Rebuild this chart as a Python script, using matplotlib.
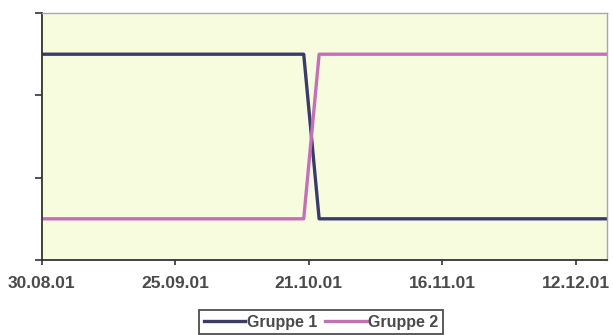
import matplotlib
matplotlib.use("Agg")
import matplotlib.pyplot as plt
import matplotlib.dates as mdates
import pandas as pd

# Werte
dates = ["30.08.2001", "20.10.2001", "23.10.2001", "18.12.2001"]
gruppe1 = [2.5, 2.5, 0.5, 0.5]
gruppe2 = [0.5, 0.5, 2.5, 2.5]
tick_dates = ["30.08.2001", "25.09.2001", "21.10.2001", "16.11.2001", "12.12.2001"]

x = pd.to_datetime(dates, format="%d.%m.%Y")
ticks = pd.to_datetime(tick_dates, format="%d.%m.%Y")

plt.rcParams['font.family'] = ['Liberation Sans', 'DejaVu Sans']

fig = plt.figure(figsize=(6.13, 3.35), dpi=100)
ax = fig.add_axes([0.068, 0.224, 0.922, 0.737])
ax.set_facecolor('#f8fcdf')

ax.plot(x, gruppe1, color='#3b3b68', lw=2.4, label='Gruppe 1')
ax.plot(x, gruppe2, color='#c272b4', lw=2.4, label='Gruppe 2')

ax.set_xlim(x[0], x[-1])
ax.set_ylim(0, 3)
ax.set_yticks([0, 1, 2, 3])
ax.set_yticklabels([])
ax.set_xticks(ticks)
ax.xaxis.set_major_formatter(mdates.DateFormatter('%d.%m.%y'))
ax.tick_params(axis='y', direction='out', length=5, width=1.2, color='#333333')
ax.tick_params(axis='x', direction='out', length=3.5, width=1.2, color='#333333',
               labelsize=12.5, labelcolor='#4a4a4a', pad=8)
for lab in ax.get_xticklabels():
    lab.set_fontweight('bold')

for side in ['left', 'bottom']:
    ax.spines[side].set_color('#333333')
    ax.spines[side].set_linewidth(1.3)
for side in ['top', 'right']:
    ax.spines[side].set_color('#a8a8a8')
    ax.spines[side].set_linewidth(1.0)

leg = fig.legend(loc='upper center', bbox_to_anchor=(0.524, 0.075), ncol=2,
                 frameon=True, fancybox=False, handlelength=2.6,
                 prop={'size': 11.5, 'weight': 'bold'},
                 handletextpad=0.1, columnspacing=0.5, borderpad=0.3,
                 borderaxespad=0)
leg.get_frame().set_edgecolor('#222222')
leg.get_frame().set_linewidth(1.3)
for t in leg.get_texts():
    t.set_color('#4a4a4a')

fig.savefig('out.png', dpi=100)
